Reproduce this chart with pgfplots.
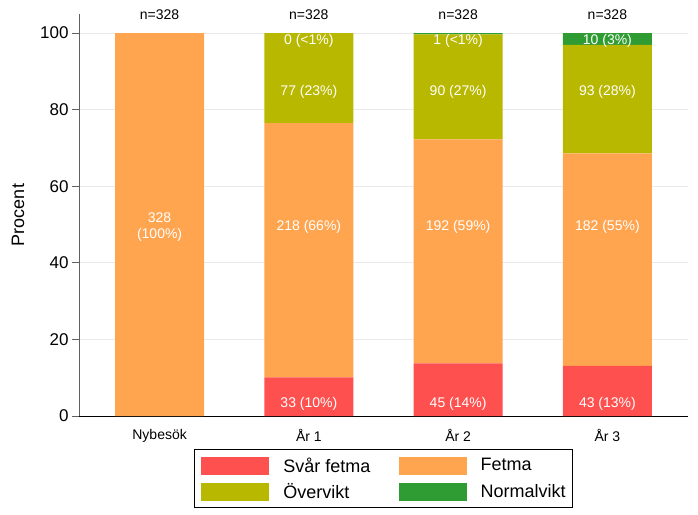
\documentclass[border=0pt]{standalone}
\usepackage{fontspec}
\setmainfont{Liberation Sans}
\usepackage{pgfplots}
\usepackage{pgfplotstable}
\pgfplotsset{compat=1.18}
\definecolor{cSvar}{RGB}{255,80,80}
\definecolor{cFetma}{RGB}{255,165,80}
\definecolor{cOver}{RGB}{184,184,0}
\definecolor{cNorm}{RGB}{46,155,51}
\definecolor{cGrid}{RGB}{234,234,234}
\definecolor{cAx}{RGB}{96,96,96}
\pgfplotstableread{
x svar fetma over normal
0 0 100 0 0
1 10.06 66.46 23.48 0
2 13.72 58.54 27.44 0.30
3 13.11 55.49 28.35 3.05
}\barsdata
\tikzset{wl/.style={font=\fontsize{14bp}{16bp}\selectfont, text=white},
         nl/.style={font=\fontsize{14bp}{16bp}\selectfont, text=black}}
\begin{document}
\begin{tikzpicture}
\useasboundingbox (-79bp,-99bp) rectangle (619bp,416bp);
\begin{axis}[
  at={(0,0)}, anchor=south west,
  width=609bp, height=402bp, scale only axis,
  xmin=-0.54, xmax=3.54, ymin=0, ymax=105,
  ybar stacked, bar width=89bp,
  axis lines*=left,
  axis line style={-},
  x axis line style={black, line width=0.8bp},
  y axis line style={cAx, line width=0.8bp},
  xtick=data,
  xticklabels={Nybesök, År 1, År 2, År 3},
  xtick style={draw=none},
  xticklabel style={font=\fontsize{14bp}{16bp}\selectfont, yshift=-3bp},
  ytick={0,20,40,60,80,100},
  ytick style={cAx, line width=0.8bp},
  major tick length=7bp,
  tick align=outside,
  yticklabel style={font=\fontsize{17bp}{19bp}\selectfont},
  /pgf/number format/assume math mode=true,
  ymajorgrids, grid style={cGrid, line width=0.8bp},
  ylabel={Procent},
  ylabel style={font=\fontsize{18bp}{20bp}\selectfont, at={(axis description cs:-0.1,0.5)}, anchor=center},
  clip=false,
  legend columns=2,
  legend cell align=left,
  legend image code/.code={\fill[#1] (0bp,-9bp) rectangle (68bp,9bp);},
  legend style={at={(axis description cs:0.5,0)}, yshift=-33bp, anchor=north,
    draw=black, line width=1bp, inner xsep=7bp, inner ysep=7bp,
    font=\fontsize{18bp}{20bp}\selectfont,
    nodes={inner sep=0pt},
    row sep=8bp,
    /tikz/every odd column/.append style={column sep=14bp},
    /tikz/every even column/.append style={column sep=28bp}},
]
\addplot[fill=cSvar, draw=none] table[x=x, y=svar] {\barsdata};
\addlegendentry{Svår fetma}
\addplot[fill=cFetma, draw=none] table[x=x, y=fetma] {\barsdata};
\addlegendentry{Fetma}
\addplot[fill=cOver, draw=none] table[x=x, y=over] {\barsdata};
\addlegendentry{Övervikt}
\addplot[fill=cNorm, draw=none] table[x=x, y=normal] {\barsdata};
\addlegendentry{Normalvikt}
\coordinate (f0) at (axis cs:0,49.3);
\coordinate (s1) at (axis cs:1,3.1);
\coordinate (s2) at (axis cs:2,3.1);
\coordinate (s3) at (axis cs:3,3.1);
\coordinate (f1) at (axis cs:1,49.5);
\coordinate (f2) at (axis cs:2,49.5);
\coordinate (f3) at (axis cs:3,49.5);
\coordinate (o1) at (axis cs:1,84.6);
\coordinate (o2) at (axis cs:2,84.6);
\coordinate (o3) at (axis cs:3,84.6);
\coordinate (n1) at (axis cs:1,98.0);
\coordinate (n2) at (axis cs:2,98.0);
\coordinate (n3) at (axis cs:3,98.0);
\node[nl] at (axis cs:0,104.8) {n=328};
\node[nl] at (axis cs:1,104.8) {n=328};
\node[nl] at (axis cs:2,104.8) {n=328};
\node[nl] at (axis cs:3,104.8) {n=328};
\end{axis}
\node[wl, align=center] at (f0) {328\\(100\%)};
\node[wl] at (s1) {33 (10\%)};
\node[wl] at (s2) {45 (14\%)};
\node[wl] at (s3) {43 (13\%)};
\node[wl] at (f1) {218 (66\%)};
\node[wl] at (f2) {192 (59\%)};
\node[wl] at (f3) {182 (55\%)};
\node[wl] at (o1) {77 (23\%)};
\node[wl] at (o2) {90 (27\%)};
\node[wl] at (o3) {93 (28\%)};
\node[wl] at (n1) {0 (<1\%)};
\node[wl] at (n2) {1 (<1\%)};
\node[wl] at (n3) {10 (3\%)};
\end{tikzpicture}
\end{document}
